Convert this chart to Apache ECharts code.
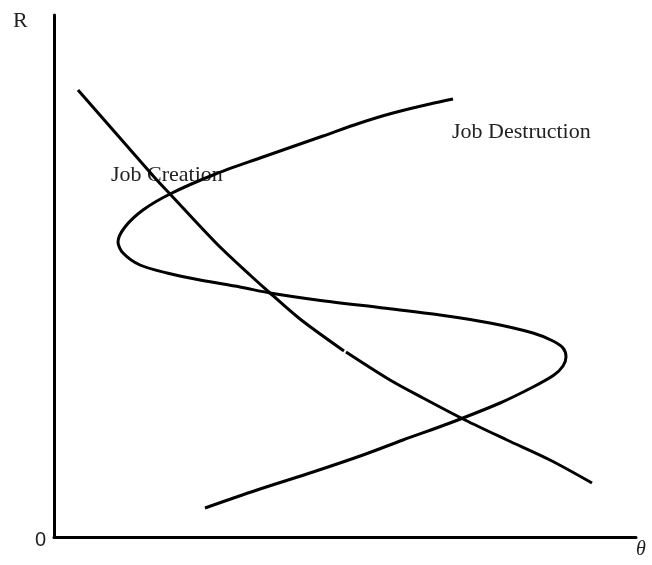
<!DOCTYPE html>
<html>
<head>
<meta charset="utf-8">
<script src="https://cdn.jsdelivr.net/npm/echarts@6/dist/echarts.min.js"></script>
<style>
  html, body { margin: 0; padding: 0; background: #fff; }
  #chart { width: 652px; height: 565px; }
</style>
</head>
<body>
<div id="chart"></div>
<script>
// theta on x, R on y (arbitrary units)
const jobCreation = [
  [24, 447], [73, 391], [101, 359], [116, 343], [163, 293], [196, 262],
  [216, 244], [246, 218], [290, 186], null,
  [292, 185], [336, 157], [369, 139], [411, 117], [453, 97], [496, 77], [538, 54]
]

const jobDestruction = [
  [151, 29], [203, 47], [259, 65], [309, 82], [349, 97], [396, 114],
  [446, 134], [479, 150], [500, 162], [509, 171], [512, 180], [509, 189],
  [499, 196], [479, 204], [436, 214], [386, 222], [329, 229], [263, 237], [216, 244],
  [186, 250], [146, 257], [113, 264], [86, 272], [69, 284], [64, 295],
  [71, 310], [89, 327], [116, 343], [159, 362], [206, 379], [269, 401],
  [306, 414], [339, 424], [376, 433], [399, 438]
]

const xMax = 582
const yMax = 522
const curveNames = ['Job Creation', 'Job Destruction']

const serif = '"Liberation Serif", "Times New Roman", serif'

const chart = echarts.init(document.getElementById('chart'), null, { renderer: 'canvas' })

function curve (name, data) {
  return {
    name,
    type: 'line',
    data,
    showSymbol: false,
    smooth: 0.3,
    connectNulls: false,
    lineStyle: { color: '#000', width: 3 },
    silent: true,
    animation: false
  }
}

const axisLine = { show: true, onZero: false, lineStyle: { color: '#000', width: 3 } }

chart.setOption({
  backgroundColor: '#fff',
  animation: false,
  grid: { left: 54, right: 16, top: 15, bottom: 28 },
  xAxis: {
    type: 'value', min: 0, max: xMax,
    axisLine, axisTick: { show: false }, axisLabel: { show: false }, splitLine: { show: false }
  },
  yAxis: {
    type: 'value', min: 0, max: yMax,
    axisLine, axisTick: { show: false }, axisLabel: { show: false }, splitLine: { show: false }
  },
  graphic: [
    { type: 'text', left: 13, top: 10, style: { text: 'R', font: '22px ' + serif, fill: '#222' } },
    { type: 'text', left: 35, top: 530, style: { text: '0', font: '20px "Liberation Sans Narrow", "Liberation Sans", sans-serif', fill: '#222' } },
    { type: 'text', left: 636, top: 540, style: { text: 'θ', font: 'italic 20px ' + serif, fill: '#222' } },
    { type: 'text', left: 111, top: 164, style: { text: curveNames[0], font: '22px ' + serif, fill: '#222' } },
    { type: 'text', left: 452, top: 121, style: { text: curveNames[1], font: '22px ' + serif, fill: '#222' } }
  ],
  series: [
    curve(curveNames[0], jobCreation),
    curve(curveNames[1], jobDestruction)
  ]
})
</script>
</body>
</html>
